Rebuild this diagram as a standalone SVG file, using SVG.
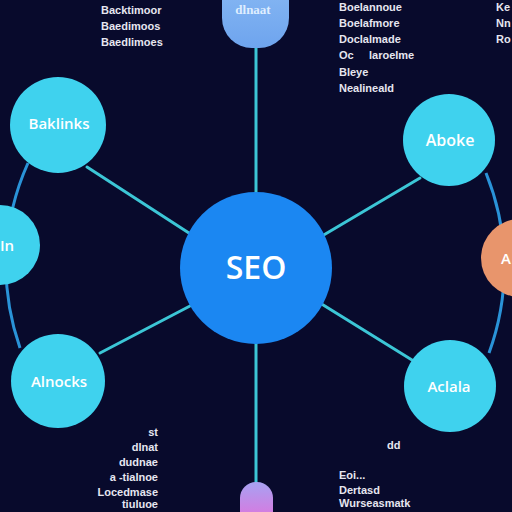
<svg xmlns="http://www.w3.org/2000/svg" width="512" height="512" viewBox="0 0 512 512">
<defs>
<linearGradient id="gTop" x1="0" y1="0" x2="0" y2="1"><stop offset="0" stop-color="#8cbcf4"/><stop offset="1" stop-color="#6ea4ee"/></linearGradient>
<linearGradient id="gBot" x1="0" y1="0" x2="0" y2="1"><stop offset="0" stop-color="#a7a2f2"/><stop offset="1" stop-color="#ee66d6"/></linearGradient>
<style>
.spoke{stroke:#3cc6d6;stroke-width:3;fill:none;stroke-linecap:round}
.arc{stroke:#2a93d8;stroke-width:3;fill:none}
.sat{fill:#3fd2ee}
.lbl{font-family:"Open Sans","Liberation Sans",sans-serif;font-weight:600;fill:#ffffff;text-anchor:middle}
.lst{font-family:"Liberation Sans","DejaVu Sans",sans-serif;font-weight:bold;font-size:11px;fill:#e6e6f0}
</style>
</defs>
<rect width="512" height="512" fill="#080a2c"/>
<g id="connectors">
<path class="arc" d="M28,163 A250,250 0 0 0 20,348"/>
<path class="arc" d="M486,173 A250,250 0 0 1 489,353"/>
<line class="spoke" x1="256" y1="40" x2="256" y2="200"/>
<line class="spoke" x1="256" y1="336" x2="256" y2="490"/>
<line class="spoke" x1="87" y1="167" x2="192" y2="235"/>
<line class="spoke" x1="420" y1="178" x2="322" y2="236"/>
<line class="spoke" x1="100" y1="353" x2="190" y2="306"/>
<line class="spoke" x1="320" y1="303" x2="412" y2="360"/>
</g>
<g id="node-top">
<rect x="222" y="-30" width="67" height="78" rx="30" fill="url(#gTop)"/>
<text x="253" y="14" font-family="Liberation Serif,serif" font-weight="bold" font-size="13" fill="#dfeeff" text-anchor="middle">dlnaat</text>
</g>
<g id="node-bottom">
<rect x="240" y="482" width="33" height="50" rx="16" fill="url(#gBot)"/>
</g>
<g id="node-seo">
<circle cx="256" cy="268" r="76" fill="#1b87f2"/>
<text class="lbl" x="256" y="279" font-size="32">SEO</text>
</g>
<g id="node-baklinks">
<circle class="sat" cx="58" cy="125" r="48"/>
<text class="lbl" x="59" y="129" font-size="15">Baklinks</text>
</g>
<g id="node-aboke">
<circle class="sat" cx="449" cy="140" r="46"/>
<text class="lbl" x="450" y="146" font-size="16">Aboke</text>
</g>
<g id="node-in">
<circle class="sat" cx="0" cy="245" r="40"/>
<text class="lbl" x="7" y="251" font-size="15">In</text>
</g>
<g id="node-peach">
<circle cx="520" cy="258" r="39" fill="#e8956c"/>
<text class="lbl" x="506" y="264" font-size="15">A</text>
</g>
<g id="node-alnocks">
<circle class="sat" cx="58" cy="381" r="47"/>
<text class="lbl" x="59" y="387" font-size="15">Alnocks</text>
</g>
<g id="node-aclala">
<circle class="sat" cx="450" cy="386" r="46"/>
<text class="lbl" x="449" y="392" font-size="15">Aclala</text>
</g>
<g id="text-top-left">
<text class="lst" x="101" y="14">Backtimoor</text>
<text class="lst" x="101" y="30">Baedimoos</text>
<text class="lst" x="101" y="46">Baedlimoes</text>
</g>
<g id="text-top-right">
<text class="lst" x="339" y="11">Boelannoue</text>
<text class="lst" x="339" y="27">Boelafmore</text>
<text class="lst" x="339" y="43">Doclalmade</text>
<text class="lst" x="339" y="59" xml:space="preserve">Oc     laroelme</text>
<text class="lst" x="339" y="76">Bleye</text>
<text class="lst" x="339" y="92">Nealineald</text>
<text class="lst" x="496" y="11">Ke</text>
<text class="lst" x="496" y="27">Nn</text>
<text class="lst" x="496" y="43">Ro</text>
</g>
<g id="text-bottom-left">
<text class="lst" x="158" y="436" text-anchor="end">st</text>
<text class="lst" x="158" y="451" text-anchor="end">dlnat</text>
<text class="lst" x="158" y="466" text-anchor="end">dudnae</text>
<text class="lst" x="158" y="481" text-anchor="end">a -tialnoe</text>
<text class="lst" x="158" y="496" text-anchor="end">Locedmase</text>
<text class="lst" x="158" y="508" text-anchor="end">tiuluoe</text>
</g>
<g id="text-bottom-right">
<text class="lst" x="387" y="449">dd</text>
<text class="lst" x="339" y="479">Eoi...</text>
<text class="lst" x="339" y="494">Dertasd</text>
<text class="lst" x="339" y="507">Wurseasmatk</text>
</g>
</svg>
